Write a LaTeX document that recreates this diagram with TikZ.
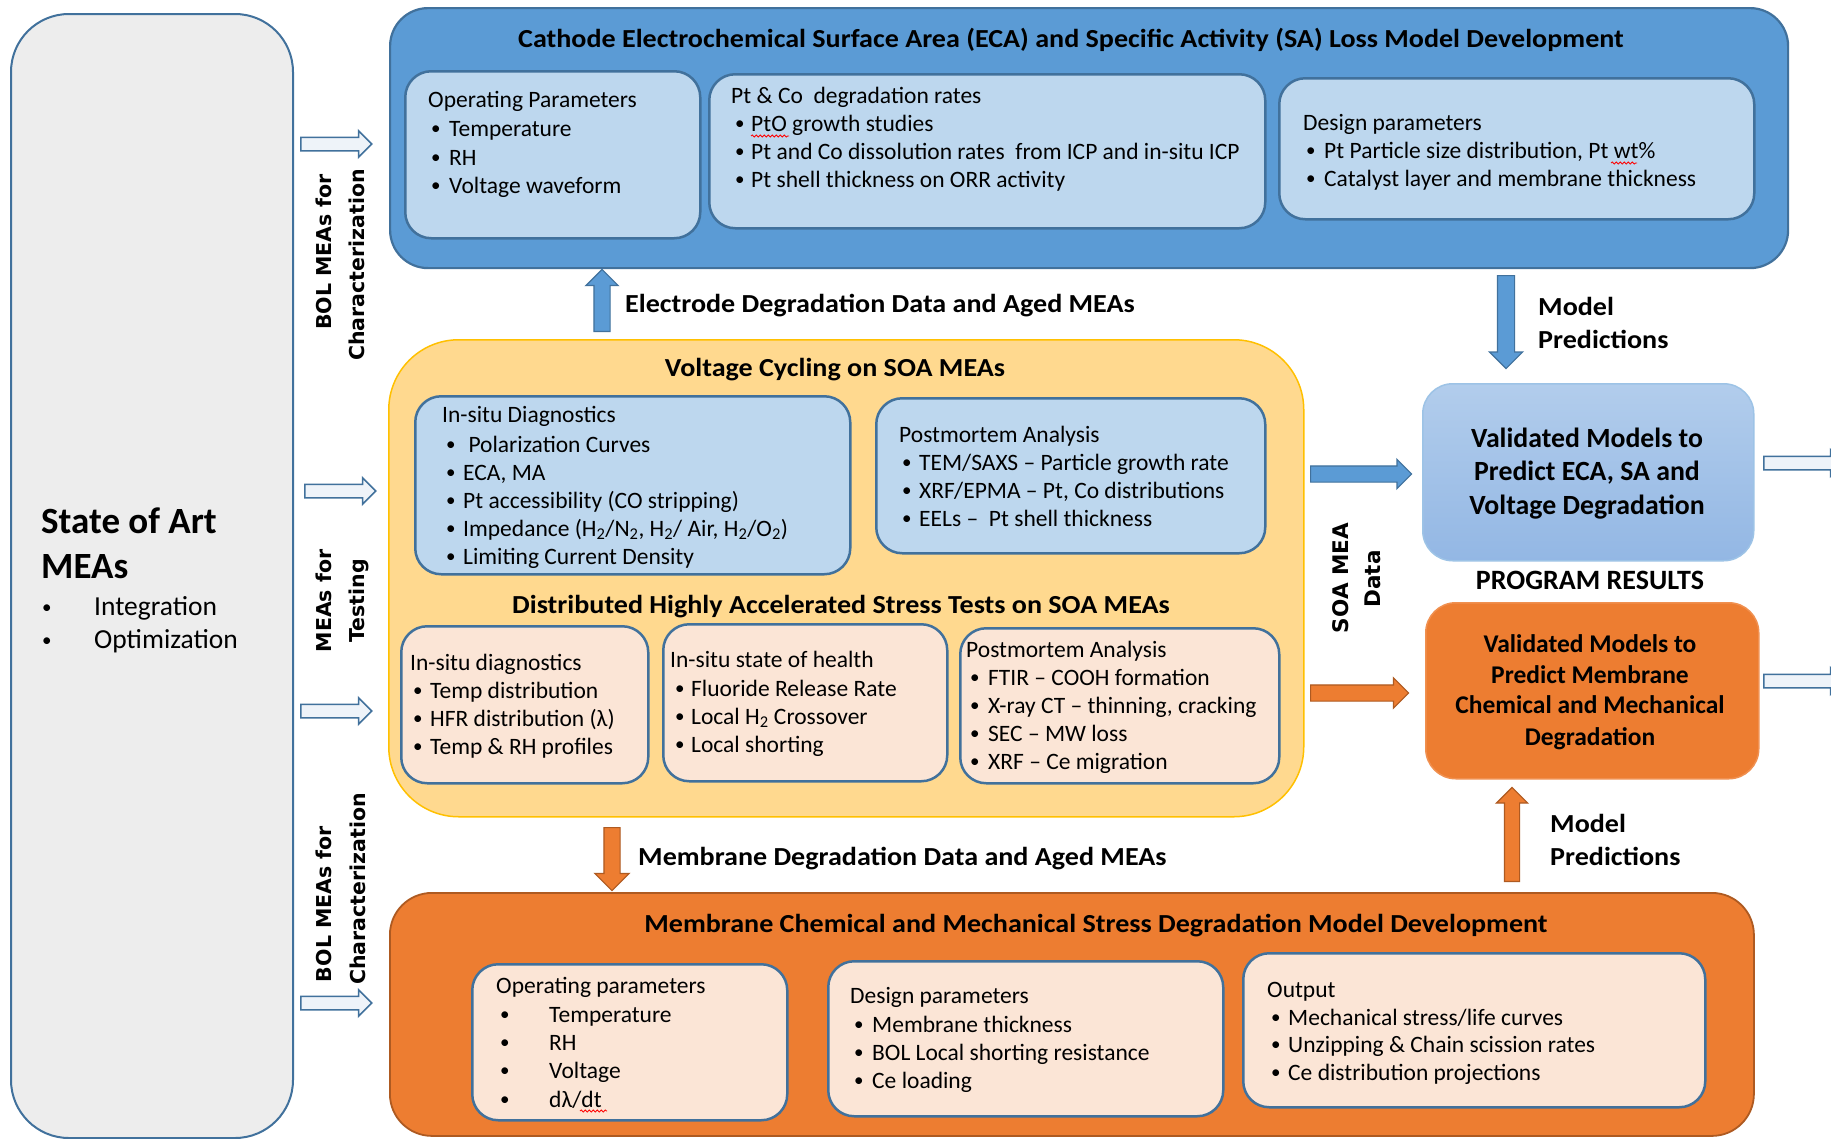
\documentclass[tikz,border=0pt]{standalone}
\usepackage{fontspec}
\setmainfont{Carlito}
\newfontfamily\ttlfont[FakeStretch=1.08]{Carlito}
\newfontfamily\vfont{DejaVu Sans}
\usetikzlibrary{shapes.arrows,decorations.pathmorphing}
\definecolor{bluef}{HTML}{5B9BD5}
\definecolor{blued}{HTML}{41719C}
\definecolor{lblue}{HTML}{BDD7EE}
\definecolor{yel}{HTML}{FFD98F}
\definecolor{yeld}{HTML}{FFC000}
\definecolor{pinkf}{HTML}{FBE5D6}
\definecolor{oran}{HTML}{ED7D31}
\definecolor{orand}{HTML}{AE5A21}
\definecolor{grayf}{HTML}{EDEDED}
\definecolor{vbt}{HTML}{B2CDEC}
\definecolor{vbb}{HTML}{93B7E4}
\definecolor{vbd}{HTML}{9DC3E6}
\definecolor{holf}{HTML}{EEF3F9}
\newcount\tn
\newcommand\bul{\raisebox{1.2pt}{\fontsize{19}{20}\selectfont •}}
\newcommand\bit[4]{\global\advance\tn by 1\relax
  \node[tx] (b\the\tn) at (#1,#3) {\bul};
  \node[tx] (t\the\tn) at (#2,#3) {#4};}
\newcommand\rbox[6]{\node[#2,anchor=north west,minimum width={(#5)-(#3)},minimum height={(#6)-(#4)}] (#1) at (#3,#4) {};}
\newcommand\sq[1]{\hspace*{#1}\rule{0pt}{#1}}
\begin{document}
\begin{tikzpicture}[x=1pt,y=-1pt,
  bigblue/.style={draw=blued,line width=2.2pt,fill=bluef,rounded corners=38pt},
  subblue/.style={draw=blued,line width=2.5pt,fill=lblue,rounded corners=26pt},
  yelbox/.style={draw=yeld,line width=1.5pt,fill=yel,rounded corners=70pt},
  pinkbox/.style={draw=blued,line width=2.5pt,fill=pinkf,rounded corners=26pt},
  orbox/.style={draw=orand,line width=1.8pt,fill=oran,rounded corners=42pt},
  graybox/.style={draw=blued,line width=2pt,fill=grayf,rounded corners=58pt},
  valblue/.style={draw=vbd,line width=1.5pt,top color=vbt,bottom color=vbb,rounded corners=30pt},
  valor/.style={draw=oran!85!white,line width=1.5pt,fill=oran,rounded corners=30pt},
  tx/.style={inner sep=0pt,anchor=base west,font=\fontsize{23.5}{28}\selectfont},
  ttl/.style={inner sep=0pt,anchor=base,font=\ttlfont\bfseries\fontsize{26}{30}\selectfont},
  lbl/.style={inner sep=0pt,anchor=base west,font=\ttlfont\bfseries\fontsize{26}{30}\selectfont},
  valtxt/.style={inner sep=0pt,anchor=base,font=\bfseries\fontsize{27.8}{32}\selectfont},
  progtxt/.style={inner sep=0pt,anchor=base,font=\bfseries\fontsize{28}{32}\selectfont},
  ortxt/.style={inner sep=0pt,anchor=base,font=\bfseries\fontsize{25.5}{31}\selectfont},
  rot/.style={inner sep=0pt,rotate=90,font=\vfont\bfseries\fontsize{20.5}{24}\selectfont},
  hollow/.style={single arrow,draw=blued,fill=holf,line width=1.5pt,inner sep=0pt,
    single arrow head extend=6.5pt,minimum height=71pt,anchor=tail},
  barrow/.style={single arrow,draw=blued,fill=bluef,line width=1.2pt,inner sep=0pt,anchor=tail},
  oarrow/.style={single arrow,draw=orand,fill=oran,line width=1.2pt,inner sep=0pt,anchor=tail},
  squig/.style={draw=red,line width=0.8pt,decorate,decoration={snake,amplitude=1.1pt,segment length=4pt}}
]
\useasboundingbox (0,0) rectangle (1831,1138);
\fill[white] (0,0) rectangle (1831,1138);

% ---------- boxes ----------
\rbox{gray}{graybox}{10}{13}{292}{1137}
\rbox{top}{bigblue}{389}{7}{1787}{267}
\rbox{top1}{subblue}{404}{70}{699}{237}
\rbox{top2}{subblue}{708}{73}{1264}{227}
\rbox{top3}{subblue}{1278}{77}{1753}{218}
\rbox{yel}{yelbox}{388}{339}{1303}{816}
\rbox{vc1}{subblue}{414}{395}{849}{573}
\rbox{vc2}{subblue}{875}{397}{1264}{552}
\rbox{pa}{pinkbox}{400}{625}{647}{782}
\rbox{pb}{pinkbox}{662}{623}{946}{780}
\rbox{pc}{pinkbox}{959}{627}{1278}{782}
\rbox{bot}{orbox}{389}{892}{1753}{1135}
\rbox{bot1}{pinkbox}{471}{963}{786}{1119}
\rbox{bot2}{pinkbox}{827}{960}{1222}{1115}
\rbox{bot3}{pinkbox}{1242}{952}{1704}{1106}
\rbox{valb}{valblue}{1422}{383}{1753}{560}
\rbox{valo}{valor}{1425}{602}{1758}{778}

% ---------- arrows ----------
\node[hollow] (h1) at (300,144) {\sq{12pt}};
\node[hollow] (h2) at (304,491) {\sq{12pt}};
\node[hollow] (h3) at (300,711) {\sq{12pt}};
\node[hollow] (h4) at (300,1003) {\sq{12pt}};
\node[hollow,minimum height=80pt] (h5) at (1763,463) {\sq{12pt}};
\node[hollow,minimum height=80pt] (h6) at (1763,681) {\sq{12pt}};
\node[barrow,shape border rotate=90,single arrow head extend=8pt,minimum height=62pt] (bu) at (602,332) {\sq{15pt}};
\node[barrow,shape border rotate=270,single arrow head extend=8pt,minimum height=93pt] (bd) at (1506,275) {\sq{16pt}};
\node[barrow,single arrow head extend=6.5pt,minimum height=101pt] (br) at (1310,474) {\sq{15pt}};
\node[oarrow,single arrow head extend=7pt,minimum height=98pt] (orr) at (1310,693) {\sq{15pt}};
\node[oarrow,shape border rotate=270,single arrow head extend=9pt,minimum height=63pt] (od) at (612,827) {\sq{15pt}};
\node[oarrow,shape border rotate=90,single arrow head extend=8pt,minimum height=94pt] (ou) at (1512,882) {\sq{14pt}};

% ---------- left panel ----------
\node[inner sep=0pt,anchor=base west,font=\bfseries\fontsize{37}{42}\selectfont] (soa1) at (41,533) {State of Art};
\node[inner sep=0pt,anchor=base west,font=\bfseries\fontsize{37}{42}\selectfont] (soa2) at (41,578) {MEAs};
\node[inner sep=0pt,anchor=base west,font=\fontsize{27.5}{33}\selectfont] (i1b) at (42,615) {\bul};
\node[inner sep=0pt,anchor=base west,font=\fontsize{27.5}{33}\selectfont] (i1) at (94,615) {Integration};
\node[inner sep=0pt,anchor=base west,font=\fontsize{27.5}{33}\selectfont] (i2b) at (42,648) {\bul};
\node[inner sep=0pt,anchor=base west,font=\fontsize{27.5}{33}\selectfont] (i2) at (94,648) {Optimization};

% rotated labels
\node[rot] (r1a) at (324,252) {BOL MEAs for};
\node[rot] (r1b) at (357,265) {Characterization};
\node[rot] (r2a) at (324,601) {MEAs for};
\node[rot] (r2b) at (359,601) {Testing};
\node[rot] (r3a) at (324,904) {BOL MEAs for};
\node[rot] (r3b) at (358,889) {Characterization};
\node[rot,font=\vfont\bfseries\fontsize{21.5}{24}\selectfont] (r4a) at (1341,578) {SOA MEA};
\node[rot,font=\vfont\bfseries\fontsize{21.5}{24}\selectfont] (r4b) at (1373,579) {Data};

% ---------- top blue box ----------
\node[ttl] (toptitle) at (1071,47) {Cathode Electrochemical Surface Area (ECA) and Specific Activity (SA) Loss Model Development};
\node[tx] (op) at (428,107) {Operating Parameters};
\bit{431}{449}{136}{Temperature}
\bit{431}{449}{165}{RH}
\bit{431}{449}{193}{Voltage waveform}
\node[tx] (ptco) at (731,103) {Pt \& Co\ \ degradation rates};
\bit{735}{751}{131}{PtO growth studies}
\bit{735}{751}{159}{Pt and Co dissolution rates\ \ from ICP and in-situ ICP}
\bit{735}{751}{187}{Pt shell thickness on ORR activity}
\node[tx] (dp) at (1303,130) {Design parameters};
\bit{1306}{1324}{158}{Pt Particle size distribution, Pt wt\%}
\bit{1306}{1324}{186}{Catalyst layer and membrane thickness}

% ---------- labels between ----------
\node[lbl] (edl) at (625,312) {Electrode Degradation Data and Aged MEAs};
\node[lbl] (mp1) at (1538,315) {Model};
\node[lbl] (mp2) at (1538,348) {Predictions};
\node[lbl] (mdl) at (638,865) {Membrane Degradation Data and Aged MEAs};
\node[lbl] (mp3) at (1550,832) {Model};
\node[lbl] (mp4) at (1550,865) {Predictions};

% ---------- yellow box ----------
\node[ttl] (vctitle) at (835,376) {Voltage Cycling on SOA MEAs};
\node[tx] (isd) at (442,422) {In-situ Diagnostics};
\bit{446}{463}{452}{\ Polarization Curves}
\bit{446}{463}{480}{ECA, MA}
\bit{446}{463}{508}{Pt accessibility (CO stripping)}
\bit{446}{463}{536}{Impedance (H\textsubscript{2}/N\textsubscript{2}, H\textsubscript{2}/ Air, H\textsubscript{2}/O\textsubscript{2})}
\bit{446}{463}{564}{Limiting Current Density}
\node[tx] (pma) at (899,442) {Postmortem Analysis};
\bit{902}{919}{470}{TEM/SAXS – Particle growth rate}
\bit{902}{919}{498}{XRF/EPMA – Pt, Co distributions}
\bit{902}{919}{526}{EELs –\ \ Pt shell thickness}
\node[ttl] (dhtitle) at (841,613) {Distributed Highly Accelerated Stress Tests on SOA MEAs};
\node[tx] (isd2) at (410,670) {In-situ diagnostics};
\bit{413}{430}{698}{Temp distribution}
\bit{413}{430}{726}{HFR distribution (λ)}
\bit{413}{430}{754}{Temp \& RH profiles}
\node[tx] (ish) at (670,667) {In-situ state of health};
\bit{675}{691}{696}{Fluoride Release Rate}
\bit{675}{691}{724}{Local H\textsubscript{2} Crossover}
\bit{675}{691}{752}{Local shorting}
\node[tx] (pma2) at (966,657) {Postmortem Analysis};
\bit{970}{988}{685}{FTIR – COOH formation}
\bit{970}{988}{713}{X-ray CT – thinning, cracking}
\bit{970}{988}{741}{SEC – MW loss}
\bit{970}{988}{769}{XRF – Ce migration}

% ---------- results ----------
\node[valtxt] (vb1) at (1587,447) {Validated Models to};
\node[valtxt] (vb2) at (1587,480) {Predict ECA, SA and};
\node[valtxt] (vb3) at (1587,514) {Voltage Degradation};
\node[progtxt] (prog) at (1590,589) {PROGRAM RESULTS};
\node[ortxt] (vo1) at (1590,652) {Validated Models to};
\node[ortxt] (vo2) at (1590,683) {Predict Membrane};
\node[ortxt] (vo3) at (1590,713) {Chemical and Mechanical};
\node[ortxt] (vo4) at (1590,745) {Degradation};

% ---------- bottom orange box ----------
\node[ttl] (bottitle) at (1096,932) {Membrane Chemical and Mechanical Stress Degradation Model Development};
\node[tx] (op2) at (496,993) {Operating parameters};
\bit{500}{549}{1022}{Temperature}
\bit{500}{549}{1050}{RH}
\bit{500}{549}{1078}{Voltage}
\bit{500}{549}{1107}{dλ/dt}
\node[tx] (dp2) at (850,1003) {Design parameters};
\bit{854}{872}{1032}{Membrane thickness}
\bit{854}{872}{1060}{BOL Local shorting resistance}
\bit{854}{872}{1088}{Ce loading}
\node[tx] (out) at (1267,997) {Output};
\bit{1271}{1288}{1025}{Mechanical stress/life curves}
\bit{1271}{1288}{1052}{Unzipping \& Chain scission rates}
\bit{1271}{1288}{1080}{Ce distribution projections}

% spell-check squiggles
\draw[squig] (751,136) -- (789,136);
\draw[squig] (1611,163) -- (1637,163);
\draw[squig] (580,1111) -- (607,1111);
\end{tikzpicture}
\end{document}
